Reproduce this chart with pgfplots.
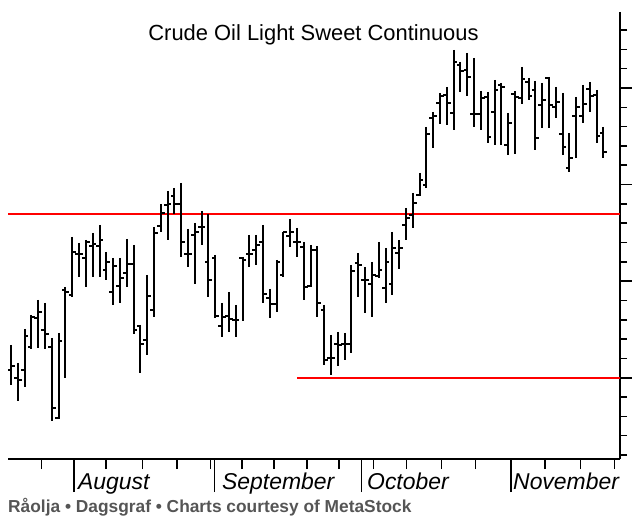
\documentclass[border=0pt]{standalone}
\usepackage{fontspec}
\setmainfont{Liberation Sans}
\usepackage{pgfplots}
\usepackage{pgfplotstable}
\pgfplotsset{compat=1.18}
\definecolor{capgray}{RGB}{85,85,85}

% day index, open, high, low, close (vertical values measured downward, y dir=reverse)
\pgfplotstableread{
d o h l c
1 370 345 385 366
2 378 363 401 380
3 370 329 387 336
4 347 315 349 317
5 318 300 348 312
6 330 303 349 334
7 347 338 421 408
8 418 333 419 341
9 290 287 378 292
10 295 237 297 252
11 254 243 277 254
12 258 240 287 242
13 246 233 277 244
14 246 225 277 240
15 270 252 280 262
16 292 258 305 266
17 286 258 303 278
18 273 239 287 264
19 264 245 334 330
20 326 325 373 344
21 340 275 355 296
22 310 227 317 233
23 226 204 232 213
24 205 191 240 204
25 196 188 214 204
26 204 183 257 242
27 254 229 267 254
28 235 223 284 232
29 227 211 245 227
30 262 214 297 280
31 258 255 318 316
32 326 303 337 317
33 316 292 332 319
34 320 305 337 320
35 258 257 321 260
36 254 235 267 254
37 250 235 265 245
38 242 225 303 294
39 298 289 318 304
40 304 260 312 262
41 275 232 277 232
42 236 219 247 232
43 242 228 257 242
44 247 242 300 287
45 286 245 287 250
46 250 246 317 303
47 310 305 365 360
48 358 335 375 358
49 344 332 366 345
50 344 333 360 344
51 344 265 353 271
52 263 253 297 265
53 280 267 313 280
54 284 262 317 275
55 276 242 278 270
56 288 248 303 262
57 284 232 295 248
58 253 240 269 248
59 225 208 240 218
60 215 193 228 203
61 195 173 196 180
62 185 127 188 134
63 118 112 148 116
64 103 93 124 96
65 95 87 125 103
66 113 50 130 62
67 65 62 92 71
68 70 53 96 77
69 114 58 127 114
70 114 91 130 98
71 97 92 143 137
72 112 80 145 90
73 85 83 145 87
74 145 113 155 123
75 94 91 154 97
76 98 67 104 79
77 82 78 100 96
78 90 81 150 138
79 105 83 128 100
80 78 77 128 105
81 107 87 118 102
82 134 93 155 147
83 168 133 172 158
84 116 97 158 107
85 116 85 123 104
86 89 82 112 96
87 95 90 143 136
88 133 127 158 152
}\bars

\begin{document}
\begin{tikzpicture}[x=1bp,y=1bp]
\path[use as bounding box] (0,0) rectangle (632,522);
\coordinate (SW) at (8,63);
% y axis (right) with its ticks
\begin{axis}[
  at={(SW)}, anchor=south west, scale only axis,
  width=612bp, height=447bp,
  xmin=0.56, xmax=90.43, ymin=12, ymax=459, y dir=reverse,
  axis x line=none, axis y line*=right,
  axis line style={line width=1.8bp, black},
  tick align=outside,
  ytick={87.96,184.56,281.16,377.76},
  minor ytick={30,49.32,68.64,107.28,126.6,145.92,165.24,203.88,223.2,242.52,261.84,300.48,319.8,339.12,358.44,397.08,416.4,435.72,455.04},
  yticklabels={},
  major tick length=12bp, minor tick length=7bp,
  tick style={line width=1.5bp, black},
  minor tick style={line width=1.5bp, black},
]
\addplot[draw=none] coordinates {(1,100)};
\end{axis}
% main axis with x ticks and the bars
\begin{axis}[
  at={(SW)}, anchor=south west, scale only axis,
  width=612bp, height=447bp,
  xmin=0.56, xmax=90.43, ymin=12, ymax=459, y dir=reverse,
  axis y line=none, axis x line*=bottom,
  axis line style={line width=1.8bp, black},
  tick align=outside,
  xtick={10.25,30.9,52.5,74.4},
  minor xtick={5.5,14.95,20.3,25.4,30.3,34.9,39.6,44.5,49.2,54.2,59.1,64.2,69.2,79.4,84.6,89.6},
  xticklabels={},
  major tick length=33bp, minor tick length=10bp,
  tick style={line width=1.5bp, black},
  minor tick style={line width=1.5bp, black},
]
\addplot[red, line width=1.8bp] coordinates {(0.56,214) (90.43,214)};
\addplot[red, line width=1.8bp] coordinates {(43.0,378) (90.43,378)};
\addplot[black, only marks, mark=text, text mark={},
  error bars/.cd, y dir=plus, y explicit, error mark=none,
  error bar style={line width=2bp, black}]
  table[x=d, y=h, y error plus expr=\thisrow{l}-\thisrow{h}] {\bars};
\addplot[black, only marks, mark=text, text mark={},
  error bars/.cd, x dir=minus, x fixed=0.55, error mark=none,
  error bar style={line width=1.6bp, black}]
  table[x=d, y=o] {\bars};
\addplot[black, only marks, mark=text, text mark={},
  error bars/.cd, x dir=plus, x fixed=0.55, error mark=none,
  error bar style={line width=1.6bp, black}]
  table[x=d, y=c] {\bars};
\end{axis}
\node[anchor=base, inner sep=0, font=\fontsize{22}{26}\selectfont] at (313.5,481) {Crude Oil Light Sweet Continuous};
\node[anchor=base west, inner sep=0, font=\itshape\fontsize{23}{27}\selectfont] at (78,32) {August};
\node[anchor=base west, inner sep=0, font=\itshape\fontsize{23}{27}\selectfont] at (222,32) {September};
\node[anchor=base west, inner sep=0, font=\itshape\fontsize{23}{27}\selectfont] at (367,32) {October};
\node[anchor=base west, inner sep=0, font=\itshape\fontsize{23}{27}\selectfont] at (513,32) {November};
\node[anchor=base west, inner sep=0, text=capgray, font=\bfseries\fontsize{17.4}{20}\selectfont] at (8,9) {Råolja • Dagsgraf • Charts courtesy of MetaStock};
\end{tikzpicture}
\end{document}
